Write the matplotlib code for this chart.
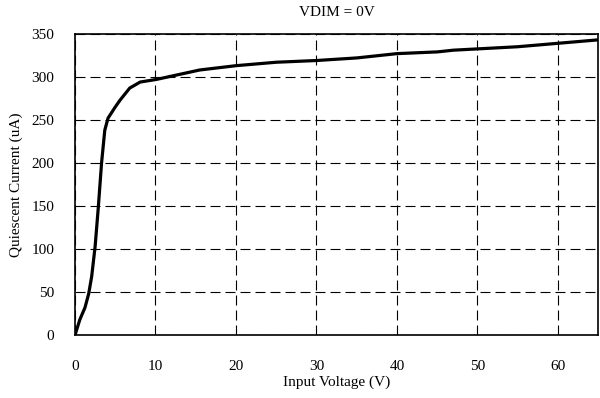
import matplotlib
matplotlib.use("Agg")
import matplotlib.pyplot as plt

# input voltage (V) vs quiescent current (uA)
vin = [0, 0.6, 1.24, 1.7, 2.07, 2.5, 2.9, 3.3, 3.7, 4.1, 5.0, 5.6, 6.8, 8.1,
       10.1, 15.5, 20, 25, 30, 35, 40, 45, 47, 55, 60, 65]
iq = [0, 18, 32, 48, 68, 103, 149, 200, 238, 252, 265, 273, 287, 294,
      297, 308, 313, 317, 319, 322, 327, 329, 331, 335, 339, 343]

xticks = [0, 10, 20, 30, 40, 50, 60]
yticks = [0, 50, 100, 150, 200, 250, 300, 350]

plt.rcParams['font.family'] = ['Liberation Serif', 'DejaVu Serif']

fig = plt.figure(figsize=(6, 3.98), dpi=100)
ax = fig.add_axes([0.125, 0.158, 0.872, 0.757])

ax.plot(vin, iq, color='black', linewidth=2.3)

ax.set_xlim(0, 65)
ax.set_ylim(0, 350)
ax.set_xticks(xticks)
ax.set_yticks(yticks)
ax.grid(True, color='black', linestyle=(0, (9, 4.5)), linewidth=0.8)
ax.tick_params(axis='x', length=0, labelsize=11, pad=18)
ax.tick_params(axis='y', length=0, labelsize=11, pad=15)
for s in ax.spines.values():
    s.set_linewidth(1.2)

ax.set_title('VDIM = 0V', fontsize=11, pad=13)
ax.set_xlabel('Input Voltage (V)', fontsize=11, labelpad=2)
ax.set_ylabel('Quiescent Current (uA)', fontsize=11, labelpad=6)

fig.savefig('out.png', dpi=100)
